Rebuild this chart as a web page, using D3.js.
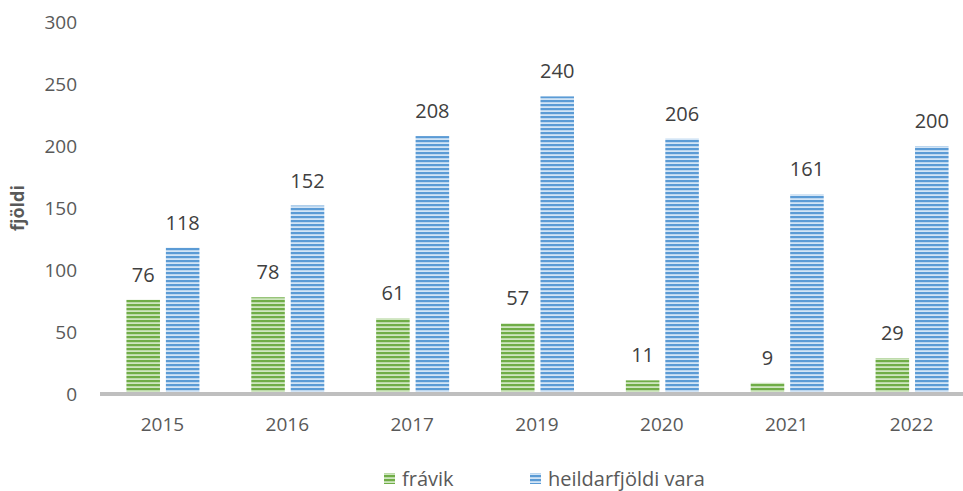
<!DOCTYPE html>
<html>
<head>
<meta charset="utf-8">
<script src="https://cdn.jsdelivr.net/npm/d3@7"></script>
<style>
  body { margin: 0; background: #fff; }
  text { font-family: "Open Sans", "Liberation Sans", sans-serif; }
</style>
</head>
<body>
<div class="vis-barchart"></div>
<script>
const years = ["2015", "2016", "2017", "2019", "2020", "2021", "2022"];
const fravik = [76, 78, 61, 57, 11, 9, 29];
const heild = [118, 152, 208, 240, 206, 161, 200];
const seriesNames = ["frávik", "heildarfjöldi vara"];
const yTicks = [0, 50, 100, 150, 200, 250, 300];

const width = 963, height = 491;
const margin = {top: 22, right: -11, bottom: 97, left: 100};

const svg = d3.select(".vis-barchart")
    .append("svg")
    .attr("width", width)
    .attr("height", height);

// stripe patterns
const defs = svg.append("defs");
const stripes = [
    {id: "pGreen", base: "#70AD47", light: "#CFE6C0"},
    {id: "pBlue", base: "#5B9BD5", light: "#D3E5F6"}
];
stripes.forEach(s => {
    let p = defs.append("pattern")
        .attr("id", s.id)
        .attr("patternUnits", "userSpaceOnUse")
        .attr("width", 8)
        .attr("height", 4);
    p.append("rect").attr("width", 8).attr("height", 4).attr("fill", s.base);
    p.append("rect").attr("y", 2.2).attr("width", 8).attr("height", 1.8).attr("fill", s.light);
});
const fills = ["url(#pGreen)", "url(#pBlue)"];

const x = d3.scaleBand()
    .domain(years)
    .range([margin.left, width - margin.right]);

const y = d3.scaleLinear()
    .domain([0, 300])
    .range([394, margin.top]);

const inner = d3.scaleBand()
    .domain([0, 1])
    .range([x.bandwidth() / 2 - 36, x.bandwidth() / 2 + 37])
    .paddingInner(0.15);

// y tick labels
svg.append("g")
    .selectAll("text")
    .data(yTicks)
    .enter()
    .append("text")
    .attr("x", 77)
    .attr("y", d => y(d))
    .attr("dy", "0.35em")
    .attr("text-anchor", "end")
    .attr("font-size", 19)
    .attr("fill", "#595959")
    .text(d => d);

// y title
svg.append("text")
    .attr("transform", `translate(24, ${y(150)}) rotate(-90)`)
    .attr("text-anchor", "middle")
    .attr("font-size", 18)
    .attr("font-weight", "bold")
    .attr("fill", "#595959")
    .text("fjöldi");

// bars
const groups = svg.append("g")
    .selectAll("g")
    .data(years)
    .enter()
    .append("g")
    .attr("transform", d => `translate(${x(d)},0)`);

[fravik, heild].forEach((vals, k) => {
    groups.append("rect")
        .attr("x", inner(k))
        .attr("width", inner.bandwidth())
        .attr("y", (d, i) => y(vals[i]))
        .attr("height", (d, i) => y(0) - y(vals[i]))
        .attr("fill", fills[k]);

    groups.append("text")
        .attr("x", inner(k) + inner.bandwidth() / 2)
        .attr("y", (d, i) => y(vals[i]) - 18)
        .attr("text-anchor", "middle")
        .attr("font-size", 20)
        .attr("fill", "#404040")
        .text((d, i) => vals[i]);
});

// x axis line
svg.append("line")
    .attr("x1", margin.left)
    .attr("x2", width)
    .attr("y1", y(0))
    .attr("y2", y(0))
    .attr("stroke", "#BFBFBF")
    .attr("stroke-width", 4);

// x labels
svg.append("g")
    .selectAll("text")
    .data(years)
    .enter()
    .append("text")
    .attr("x", d => x(d) + x.bandwidth() / 2)
    .attr("y", 431)
    .attr("text-anchor", "middle")
    .attr("font-size", 19)
    .attr("fill", "#595959")
    .text(d => d);

// legend
const legendX = [384, 530];
const legend = svg.append("g")
    .selectAll("g")
    .data(seriesNames)
    .enter()
    .append("g")
    .attr("transform", (d, i) => `translate(${legendX[i]}, 479)`);

legend.append("rect")
    .attr("y", -6)
    .attr("width", 11)
    .attr("height", 11)
    .attr("fill", (d, i) => fills[i]);

legend.append("text")
    .attr("x", 18)
    .attr("dy", "0.35em")
    .attr("font-size", 20)
    .attr("fill", "#595959")
    .text(d => d);
</script>
</body>
</html>
